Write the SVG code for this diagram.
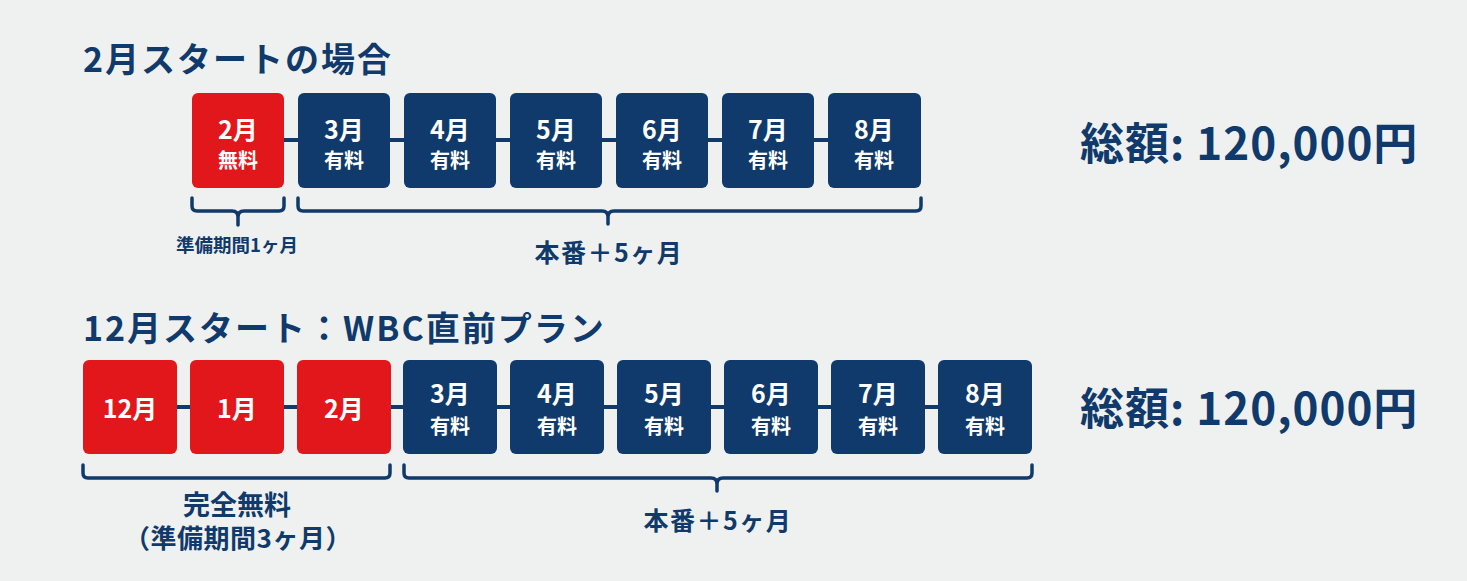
<svg xmlns="http://www.w3.org/2000/svg" width="1467" height="581" viewBox="0 0 1467 581">
<style>
text{font-family:"Noto Sans CJK JP","Noto Sans",sans-serif;font-weight:700}
.t{fill:#0f3a6b}
.w{fill:#fff;text-anchor:middle}
.red{fill:#e2171c}
.blue{fill:#0f3a6b}
.con{stroke:#0f3a6b;stroke-width:4;fill:none}
.br{stroke:#0f3a6b;stroke-width:3.5;fill:none;stroke-linecap:round;stroke-linejoin:round}
.m{font-size:25px}
.s{font-size:20px}
.c{text-anchor:middle}
.title{font-size:34px;letter-spacing:2px}
.total{font-size:44px;letter-spacing:1px}
</style>
<rect width="1467" height="581" fill="#eff1f1"/>
<text class="t title" x="83" y="72">2月スタートの場合</text>
<text class="t title" x="83" y="341">12月スタート：WBC直前プラン</text>
<g id="connectors">
<line class="con" x1="284" y1="140" x2="298" y2="140"/>
<line class="con" x1="390" y1="140" x2="404" y2="140"/>
<line class="con" x1="496" y1="140" x2="510" y2="140"/>
<line class="con" x1="602" y1="140" x2="616" y2="140"/>
<line class="con" x1="708" y1="140" x2="722" y2="140"/>
<line class="con" x1="814" y1="140" x2="828" y2="140"/>
<line class="con" x1="177" y1="407" x2="190" y2="407"/>
<line class="con" x1="284" y1="407" x2="297" y2="407"/>
<line class="con" x1="391" y1="407" x2="403" y2="407"/>
<line class="con" x1="497" y1="407" x2="510" y2="407"/>
<line class="con" x1="604" y1="407" x2="617" y2="407"/>
<line class="con" x1="711" y1="407" x2="724" y2="407"/>
<line class="con" x1="818" y1="407" x2="831" y2="407"/>
<line class="con" x1="925" y1="407" x2="938" y2="407"/>
</g>
<g id="r1-feb"><rect class="red" x="192" y="93" width="92" height="95" rx="6"/><text class="w m" x="238" y="139">2月</text><text class="w s" x="238" y="168">無料</text></g>
<g id="r1-mar"><rect class="blue" x="298" y="93" width="92" height="95" rx="6"/><text class="w m" x="344" y="139">3月</text><text class="w s" x="344" y="168">有料</text></g>
<g id="r1-apr"><rect class="blue" x="404" y="93" width="92" height="95" rx="6"/><text class="w m" x="450" y="139">4月</text><text class="w s" x="450" y="168">有料</text></g>
<g id="r1-may"><rect class="blue" x="510" y="93" width="92" height="95" rx="6"/><text class="w m" x="556" y="139">5月</text><text class="w s" x="556" y="168">有料</text></g>
<g id="r1-jun"><rect class="blue" x="616" y="93" width="92" height="95" rx="6"/><text class="w m" x="662" y="139">6月</text><text class="w s" x="662" y="168">有料</text></g>
<g id="r1-jul"><rect class="blue" x="722" y="93" width="92" height="95" rx="6"/><text class="w m" x="768" y="139">7月</text><text class="w s" x="768" y="168">有料</text></g>
<g id="r1-aug"><rect class="blue" x="828" y="93" width="93" height="95" rx="6"/><text class="w m" x="874" y="139">8月</text><text class="w s" x="874" y="168">有料</text></g>
<g id="r1-brackets">
<path class="br" d="M192,198 V206 Q192,211 197,211 H232 Q238,211 238,217 V225 M238,217 Q238,211 244,211 H279 Q284,211 284,206 V198"/>
<path class="br" d="M298,198 V206 Q298,211 303,211 H602 Q608,211 608,217 V224 M608,217 Q608,211 614,211 H916 Q921,211 921,206 V198"/>
<text class="t c" x="237" y="252" font-size="18.5">準備期間1ヶ月</text>
<text class="t c" x="609" y="262" font-size="25" letter-spacing="1.5">本番＋5ヶ月</text>
</g>
<g id="r1-total"><text class="t total" x="1080" y="160">総額: 120,000円</text></g>
<g id="r2-dec"><rect class="red" x="83" y="360" width="94" height="94" rx="6"/><text class="w m" x="130" y="418">12月</text></g>
<g id="r2-jan"><rect class="red" x="190" y="360" width="94" height="94" rx="6"/><text class="w m" x="237" y="418">1月</text></g>
<g id="r2-feb"><rect class="red" x="297" y="360" width="94" height="94" rx="6"/><text class="w m" x="344" y="418">2月</text></g>
<g id="r2-mar"><rect class="blue" x="403" y="360" width="94" height="94" rx="6"/><text class="w m" x="450" y="403">3月</text><text class="w s" x="450" y="434">有料</text></g>
<g id="r2-apr"><rect class="blue" x="510" y="360" width="94" height="94" rx="6"/><text class="w m" x="557" y="403">4月</text><text class="w s" x="557" y="434">有料</text></g>
<g id="r2-may"><rect class="blue" x="617" y="360" width="94" height="94" rx="6"/><text class="w m" x="664" y="403">5月</text><text class="w s" x="664" y="434">有料</text></g>
<g id="r2-jun"><rect class="blue" x="724" y="360" width="94" height="94" rx="6"/><text class="w m" x="771" y="403">6月</text><text class="w s" x="771" y="434">有料</text></g>
<g id="r2-jul"><rect class="blue" x="831" y="360" width="94" height="94" rx="6"/><text class="w m" x="878" y="403">7月</text><text class="w s" x="878" y="434">有料</text></g>
<g id="r2-aug"><rect class="blue" x="938" y="360" width="94" height="94" rx="6"/><text class="w m" x="985" y="403">8月</text><text class="w s" x="985" y="434">有料</text></g>
<g id="r2-brackets">
<path class="br" d="M83,465 V473 Q83,478 88,478 H385 Q390,478 390,473 V465"/>
<path class="br" d="M404,465 V473 Q404,478 409,478 H711 Q717,478 717,484 V491 M717,484 Q717,478 723,478 H1027 Q1032,478 1032,473 V465"/>
<text class="t c" x="237" y="515" font-size="27">完全無料</text>
<text class="t c" x="238" y="548" font-size="26" letter-spacing="0.5">（準備期間3ヶ月）</text>
<text class="t c" x="718" y="530" font-size="25" letter-spacing="1.5">本番＋5ヶ月</text>
</g>
<g id="r2-total"><text class="t total" x="1080" y="425">総額: 120,000円</text></g>
</svg>
